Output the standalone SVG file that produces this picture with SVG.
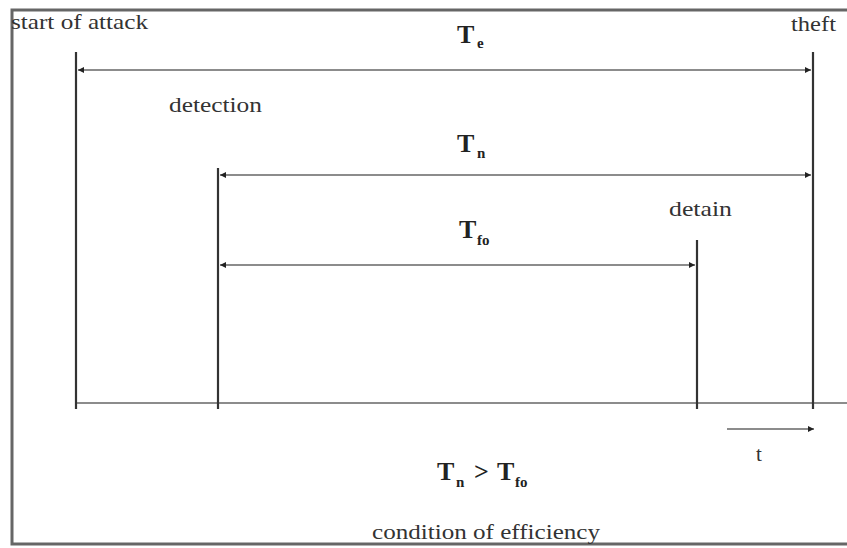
<svg xmlns="http://www.w3.org/2000/svg" width="847" height="548" viewBox="0 0 847 548">
<defs>
<style>
.lbl{font-family:"Liberation Serif","Times New Roman",serif;font-size:21px;fill:#333}
.sym{font-family:"Liberation Serif","Times New Roman",serif;font-weight:bold;fill:#222;font-size:26px}
.sub{font-family:"Liberation Serif","Times New Roman",serif;font-weight:bold;fill:#222;font-size:15px}
.vl{stroke:#333;stroke-width:2.2}
.hl{stroke:#666;stroke-width:1.6;fill:none}
.frame{stroke:#666;stroke-width:3;fill:none}
</style>
<marker id="ah" viewBox="0 0 8 8" refX="8" refY="4" markerWidth="6" markerHeight="6" markerUnits="userSpaceOnUse" orient="auto-start-reverse">
<path d="M0,0 L8,4 L0,8 z" fill="#222"/>
</marker>
</defs>
<rect width="847" height="548" fill="#fff"/>
<path class="frame" d="M850,10 H12 V544 H850"/>
<g id="connectors">
<line class="hl" x1="76" y1="403" x2="847" y2="403"/>
<line class="hl" x1="78" y1="70" x2="811" y2="70" marker-start="url(#ah)" marker-end="url(#ah)"/>
<line class="hl" x1="220" y1="175" x2="811" y2="175" marker-start="url(#ah)" marker-end="url(#ah)"/>
<line class="hl" x1="220" y1="265" x2="695" y2="265" marker-start="url(#ah)" marker-end="url(#ah)"/>
<line class="hl" x1="727" y1="429" x2="814" y2="429" marker-end="url(#ah)"/>
</g>
<g id="start">
<line class="vl" x1="76" y1="52" x2="76" y2="409"/>
<text class="lbl" x="11" y="29" textLength="137" lengthAdjust="spacingAndGlyphs">start of attack</text>
</g>
<g id="detection">
<line class="vl" x1="218" y1="168" x2="218" y2="409"/>
<text class="lbl" x="169" y="112" textLength="93" lengthAdjust="spacingAndGlyphs">detection</text>
</g>
<g id="detain">
<line class="vl" x1="697" y1="240" x2="697" y2="409"/>
<text class="lbl" x="669" y="216" textLength="63" lengthAdjust="spacingAndGlyphs">detain</text>
</g>
<g id="theft">
<line class="vl" x1="813" y1="52" x2="813" y2="409"/>
<text class="lbl" x="791" y="31" textLength="45" lengthAdjust="spacingAndGlyphs">theft</text>
</g>
<g id="Te"><text class="sym" x="457" y="43">T<tspan class="sub" x="477" y="48">e</tspan></text></g>
<g id="Tn"><text class="sym" x="457" y="152">T<tspan class="sub" x="477" y="158">n</tspan></text></g>
<g id="Tfo"><text class="sym" x="459" y="238">T<tspan class="sub" x="477" y="245">fo</tspan></text></g>
<g id="cond">
<text class="sym" x="437" y="480">T<tspan class="sub" x="456" y="487">n</tspan><tspan x="474" y="480">&gt;</tspan><tspan x="497" y="480">T</tspan><tspan class="sub" x="515" y="487">fo</tspan></text>
<text class="lbl" x="372" y="539" textLength="228" lengthAdjust="spacingAndGlyphs">condition of efficiency</text>
</g>
<g id="time"><text class="lbl" x="756" y="461">t</text></g>
</svg>
